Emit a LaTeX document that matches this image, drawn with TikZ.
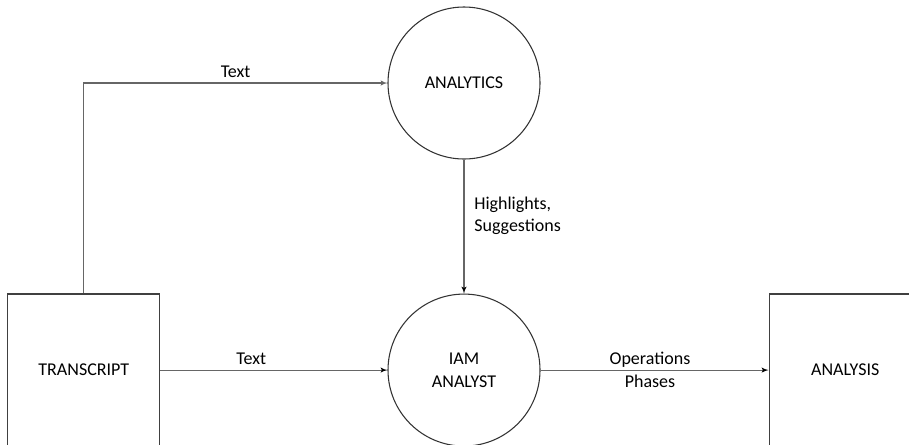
\documentclass[tikz,border=0pt]{standalone}
\usepackage{fontspec}
\setmainfont{Carlito}
\usetikzlibrary{arrows,positioning}

\begin{document}
\begin{tikzpicture}[x=0.75pt,y=-0.75pt,>=latex',auto,
    font=\fontsize{13.5}{17}\selectfont,
    process/.style={circle,draw=black!80,line width=0.8pt,minimum size=114pt,inner sep=0pt,align=center},
    store/.style={rectangle,draw=black!75,line width=1pt,minimum size=114pt},
    flow/.style={->,draw=black!60,line width=0.8pt}]

    \useasboundingbox (0,0) rectangle (909,444);

    \node[process] (analytics) at (464,83) {ANALYTICS};

    \node[process] (iam) [below=100.5pt of analytics] {IAM\\ANALYST};

    \node[store] (transcript) [left=170.25pt of iam] {TRANSCRIPT};

    \node[store] (analysis) [right=171pt of iam] {ANALYSIS};

    \path[flow] (transcript.north) |- node[pos=0.75] {Text} (analytics.west);

    \path[flow] (transcript) edge node[pos=0.4] {Text} (iam)
                (analytics) edge node[pos=0.42,align=left,xshift=4pt] {Highlights,\\Suggestions} (iam)
                (iam) edge node[pos=0.48,anchor=center,align=center] {Operations\\Phases} (analysis);

\end{tikzpicture}
\end{document}
